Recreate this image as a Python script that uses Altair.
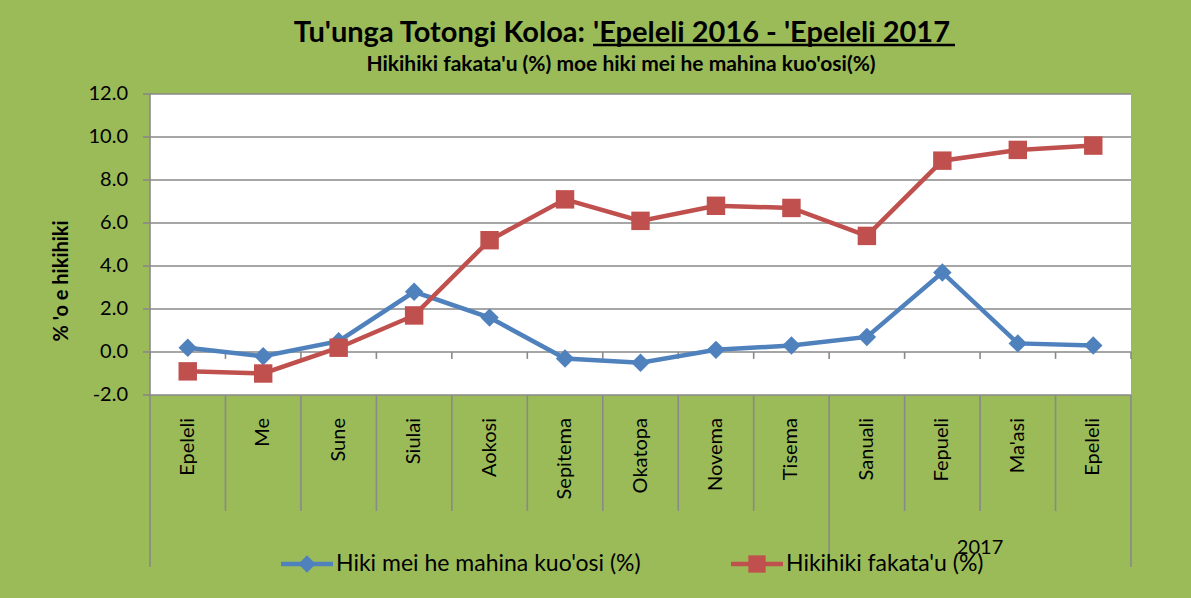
import altair as alt
import pandas as pd

# ---------------- data ----------------
months = ["Epeleli", "Me", "Sune", "Siulai", "Aokosi", "Sepitema", "Okatopa",
          "Novema", "Tisema", "Sanuali", "Fepueli", "Ma'asi", "Epeleli"]
mom = [0.2, -0.2, 0.5, 2.8, 1.6, -0.3, -0.5, 0.1, 0.3, 0.7, 3.7, 0.4, 0.3]
yoy = [-0.9, -1.0, 0.2, 1.7, 5.2, 7.1, 6.1, 6.8, 6.7, 5.4, 8.9, 9.4, 9.6]
series_names = ["Hiki mei he mahina kuo'osi (%)", "Hikihiki fakata'u (%)"]
year_labels = ["", "2017"]
year_first_index = [0, 9]
y_ticks = [-2, 0, 2, 4, 6, 8, 10, 12]
y_tick_labels = [f"{v:.1f}" for v in y_ticks]

title_a = "Tu'unga Totongi Koloa:"
title_b = "'Epeleli 2016 - 'Epeleli 2017"
subtitle = "Hikihiki fakata'u (%) moe hiki mei he mahina kuo'osi(%)"
y_title = "% 'o e hikihiki"

# ---------------- layout / style ----------------
W, H = 981, 301
PAD = {"left": 150, "top": 94, "right": 60, "bottom": 203}
BG = "#9BBB59"
BLUE, RED = "#4F81BD", "#C0504D"
GRID = "#898989"
FONT = "Lato"
LEG_X = [157, 607]
LEG_Y = 470

n = len(months)
df = pd.DataFrame({"i": list(range(n)), "month": months})
long = pd.concat([
    pd.DataFrame({"i": list(range(n)), "series": series_names[0], "value": mom}),
    pd.DataFrame({"i": list(range(n)), "series": series_names[1], "value": yoy}),
], ignore_index=True)
bounds = pd.DataFrame({"b": [i - 0.5 for i in range(n + 1)]})
zt = pd.DataFrame({"bz": [i - 0.5 for i in range(n + 1)], "z": 0.0, "z2": -0.32})
grp_edges = sorted(set([s - 0.5 for s in year_first_index] + [n - 0.5]))
gedges = pd.DataFrame({"g": grp_edges})
groups = pd.DataFrame({
    "label": year_labels,
    "start": [s - 0.5 for s in year_first_index],
    "end": [e - 0.5 for e in year_first_index[1:]] + [n - 0.5],
})
groups["mid"] = (groups.start + groups.end) / 2
legend_df = pd.DataFrame({"lseries": series_names, "k": [0, 1]})
tdf = pd.DataFrame({"ta": [title_a], "tb": [title_b], "st": [subtitle], "yt": [y_title]})
grid_df = pd.DataFrame({"gt": y_ticks})
tick_df = pd.DataFrame({"tt": y_ticks})
lab_df = pd.DataFrame({"lt": y_ticks, "lab": y_tick_labels})

xs = alt.Scale(domain=[-0.5, n - 0.5], nice=False, zero=False)
ys = alt.Scale(domain=[-2, 12], nice=False, zero=False)
cs = alt.Scale(domain=series_names, range=[BLUE, RED])
ss = alt.Scale(domain=series_names, range=["diamond", "square"])

# y axis drawn from the tick list
grid = alt.Chart(grid_df).mark_rule(color=GRID, strokeWidth=1.6).encode(
    x=alt.value(0), x2=alt.value(W), y=alt.Y("gt:Q", scale=ys, axis=None))
yticks = alt.Chart(tick_df).mark_rule(color=GRID, strokeWidth=1.6).encode(
    x=alt.value(-7), x2=alt.value(0), y=alt.Y("tt:Q", scale=ys, axis=None))
ylabels = alt.Chart(lab_df).mark_text(align="right", baseline="middle", font=FONT,
                                      fontSize=20, color="black").encode(
    x=alt.value(-22), y=alt.Y("lt:Q", scale=ys, axis=None), text="lab:N")
ydomain = alt.Chart(tdf).mark_rule(color=GRID, strokeWidth=1.6).encode(
    x=alt.value(0), y=alt.value(0), y2=alt.value(H))
ytitle = alt.Chart(tdf).mark_text(angle=270, align="center", baseline="middle", font=FONT,
                                  fontSize=20, fontWeight="bold", color="black").encode(
    x=alt.value(-88), y=alt.value(187), text="yt:N")

base = alt.Chart(long)
lines = base.mark_line(strokeWidth=4.5).encode(
    x=alt.X("i:Q", scale=xs, axis=None),
    y=alt.Y("value:Q", scale=ys, axis=None),
    color=alt.Color("series:N", scale=cs, legend=None),
)
points = base.mark_point(filled=True, size=340, opacity=1).encode(
    x=alt.X("i:Q", scale=xs, axis=None), y=alt.Y("value:Q", scale=ys, axis=None),
    color=alt.Color("series:N", scale=cs, legend=None),
    shape=alt.Shape("series:N", scale=ss, legend=None))

cat_lines = alt.Chart(bounds).mark_rule(color=GRID, strokeWidth=1.6).encode(
    x=alt.X("b:Q", scale=xs, axis=None), y=alt.value(H), y2=alt.value(H + 116))
grp_lines = alt.Chart(gedges).mark_rule(color=GRID, strokeWidth=1.6).encode(
    x=alt.X("g:Q", scale=xs, axis=None), y=alt.value(H + 116), y2=alt.value(H + 172))
zero_ticks = alt.Chart(zt).mark_rule(color=GRID, strokeWidth=1.6).encode(
    x=alt.X("bz:Q", scale=xs, axis=None), y=alt.Y("z:Q", scale=ys, axis=None), y2="z2:Q")

month_text = alt.Chart(df).mark_text(angle=270, align="right", baseline="middle",
                                      font=FONT, fontSize=20, color="black").encode(
    x=alt.X("i:Q", scale=xs, axis=None), y=alt.value(H + 23), text="month:N")
year_text = alt.Chart(groups).mark_text(align="center", baseline="middle",
                                        font=FONT, fontSize=20, color="black").encode(
    x=alt.X("mid:Q", scale=xs, axis=None), y=alt.value(H + 153), text="label:N")

leg_layers = []
for k, lx in enumerate(LEG_X):
    lk = alt.Chart(legend_df).transform_filter(alt.datum.k == k)
    leg_layers.append(lk.mark_rule(strokeWidth=4.5).encode(
        x=alt.value(lx - 26), x2=alt.value(lx + 26), y=alt.value(LEG_Y),
        color=alt.Color("lseries:N", scale=cs, legend=None)))
    leg_layers.append(lk.mark_point(filled=True, size=300, opacity=1).encode(
        x=alt.value(lx), y=alt.value(LEG_Y),
        color=alt.Color("lseries:N", scale=cs, legend=None),
        shape=alt.Shape("lseries:N", scale=ss, legend=None)))
    leg_layers.append(lk.mark_text(align="left", baseline="middle", font=FONT,
                                   fontSize=23, color="black").encode(
        x=alt.value(lx + 29), y=alt.value(LEG_Y), text="lseries:N"))

tc = alt.Chart(tdf)
t1 = tc.mark_text(align="right", baseline="alphabetic", font=FONT, fontSize=29,
                  fontWeight="bold", color="black").encode(
    x=alt.value(435), y=alt.value(-52), text="ta:N")
t2 = tc.mark_text(align="left", baseline="alphabetic", font=FONT, fontSize=29,
                  fontWeight="bold", color="black").encode(
    x=alt.value(443), y=alt.value(-52), text="tb:N")
t_ul = tc.mark_rule(color="black", strokeWidth=2.5).encode(
    x=alt.value(443), x2=alt.value(805), y=alt.value(-49))
t3 = tc.mark_text(align="center", baseline="middle", font=FONT, fontSize=21,
                  fontWeight="bold", color="black").encode(
    x=alt.value(471), y=alt.value(-29), text="st:N")

chart = alt.layer(
    grid, yticks, ydomain, ylabels, ytitle,
    cat_lines, grp_lines, zero_ticks, lines, points, month_text, year_text,
    *leg_layers, t1, t2, t_ul, t3,
).properties(
    width=W, height=H, padding=PAD,
    autosize=alt.AutoSizeParams(type="none"),
).configure(background=BG).configure_view(fill="white", strokeWidth=0)

chart.save("out.html", embed_options={"renderer": "svg", "actions": False})
